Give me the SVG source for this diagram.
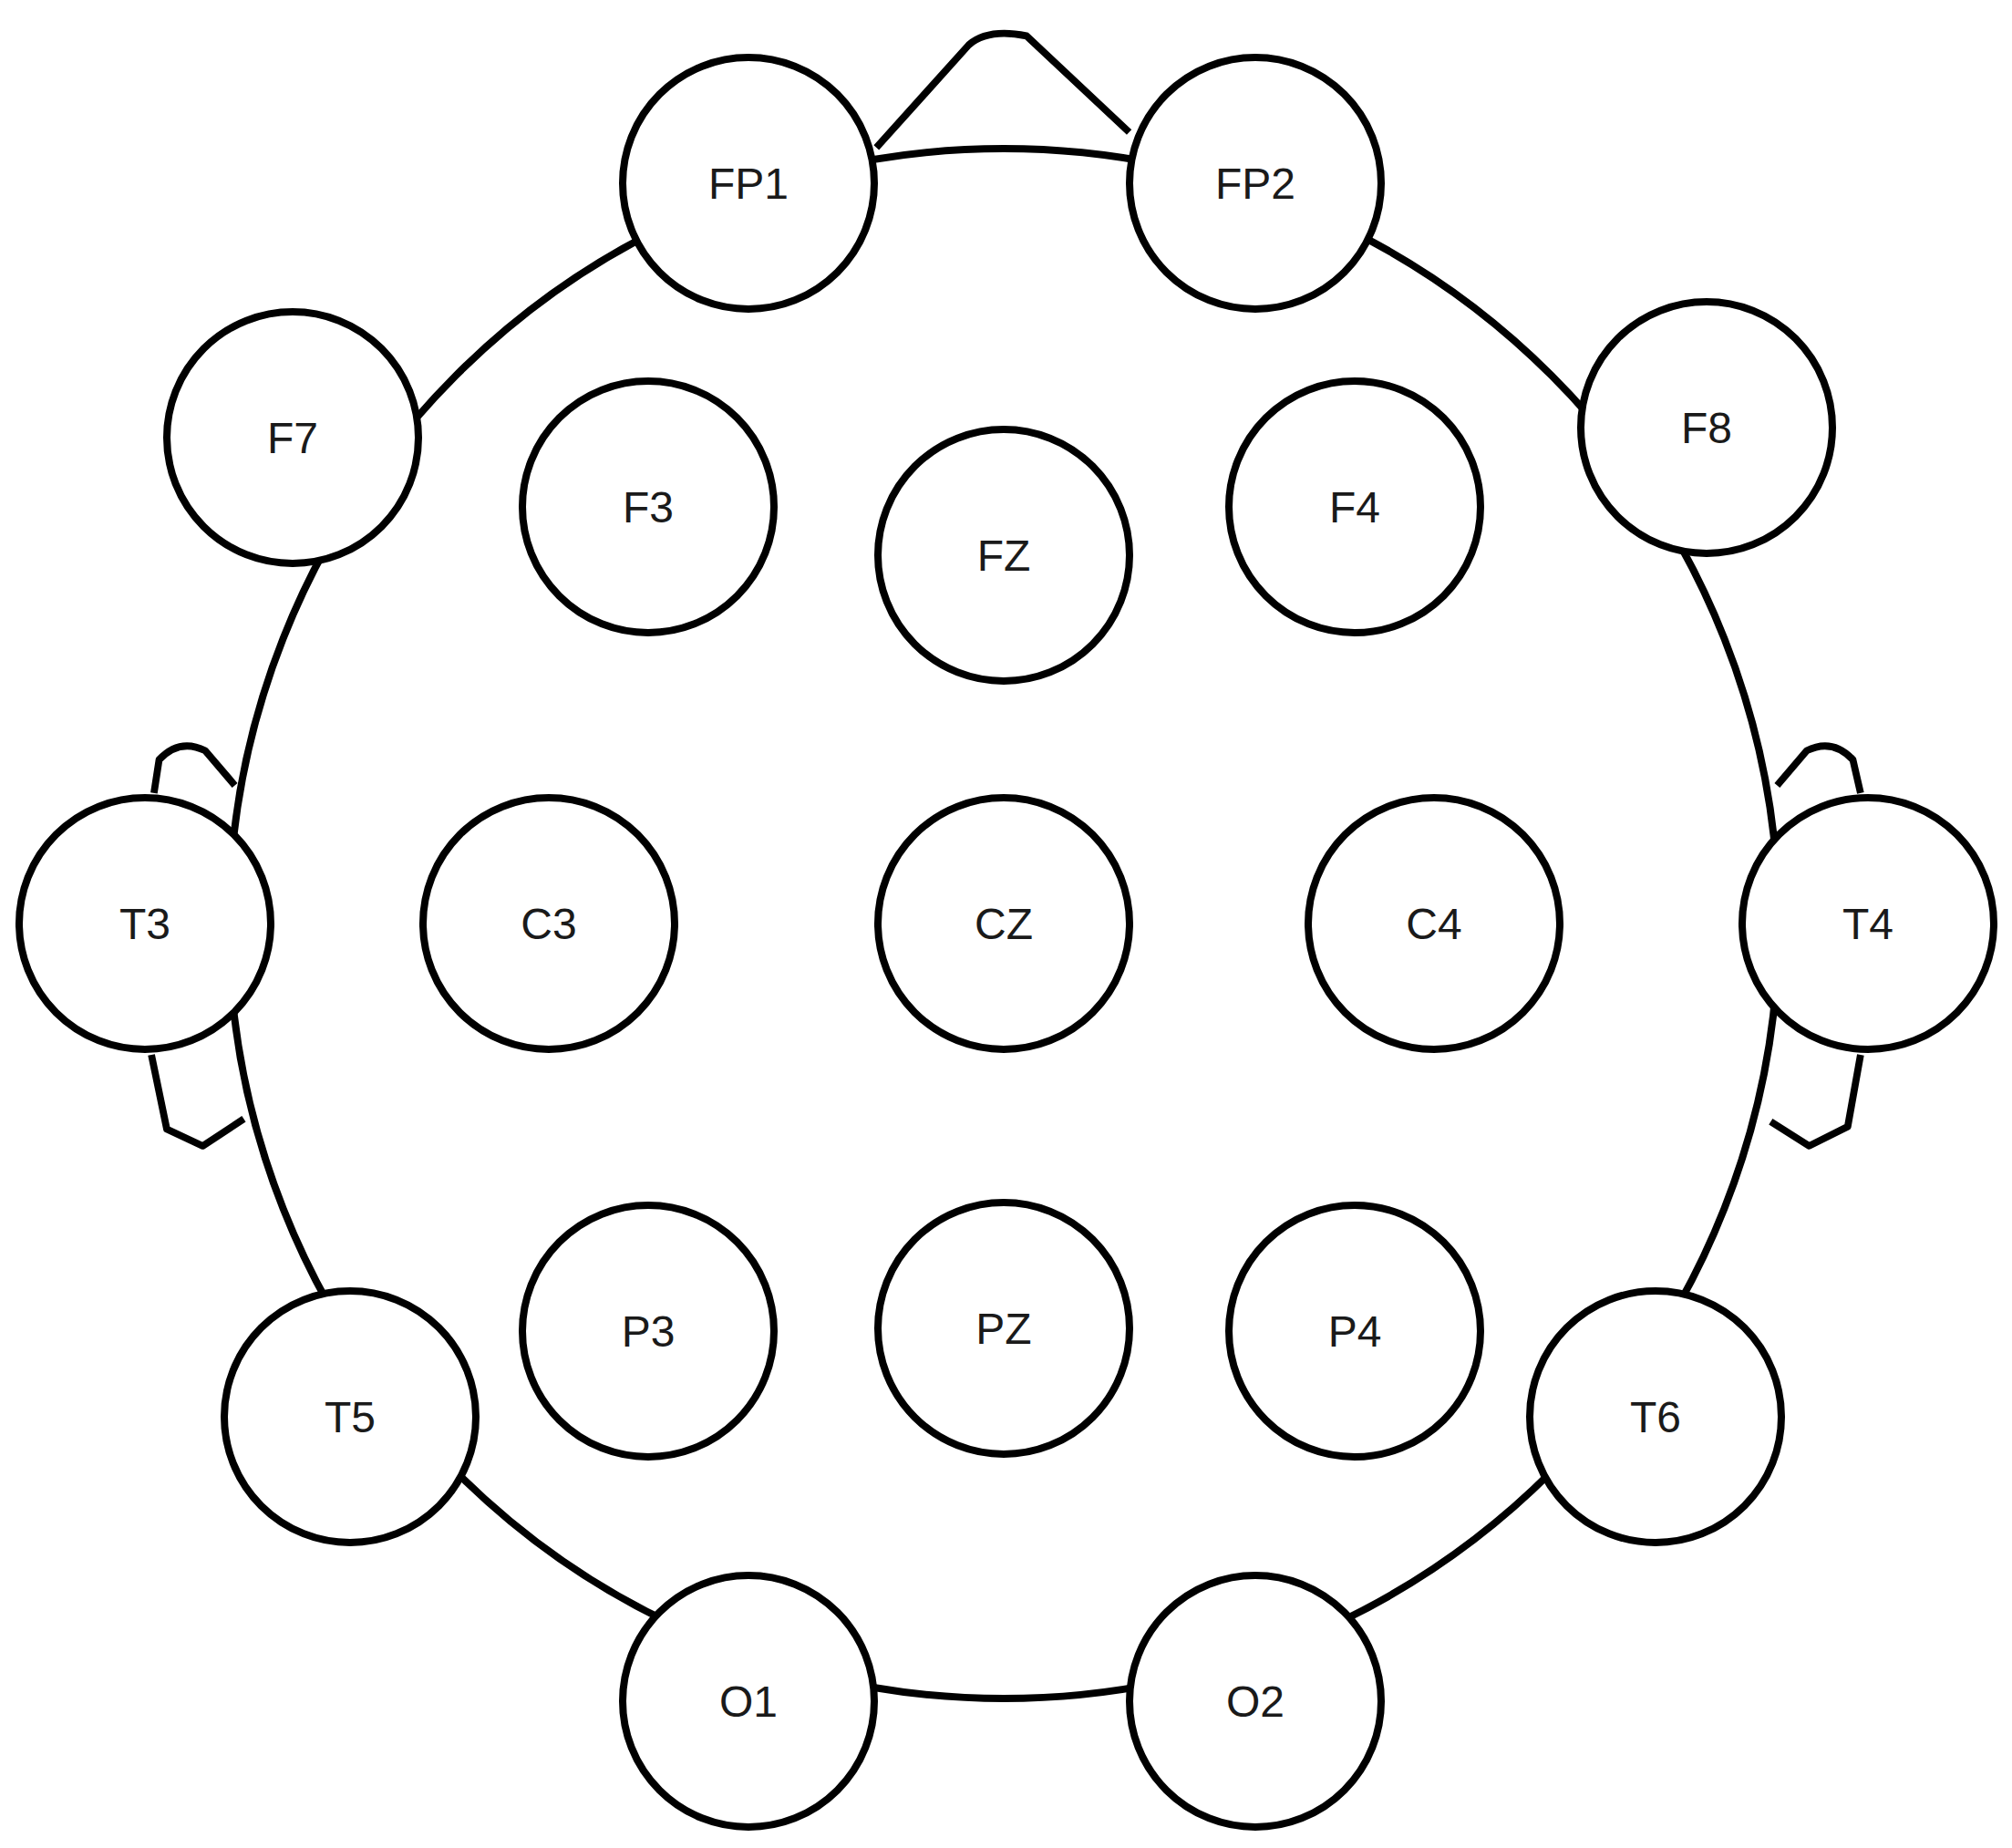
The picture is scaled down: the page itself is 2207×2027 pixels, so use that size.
<svg xmlns="http://www.w3.org/2000/svg" width="2207" height="2027" viewBox="0 0 2207 2027">
<style>
.n circle{fill:#fff;stroke:#000;stroke-width:8}
.n text{font-family:"Liberation Sans",Arial,sans-serif;font-size:48px;text-anchor:middle;dominant-baseline:central;fill:#1a1a1a}
.h{fill:none;stroke:#000;stroke-width:5.5;stroke-linejoin:round}
</style>
<rect width="2207" height="2027" fill="#fff"/>
<g id="connectors">
<circle cx="1101" cy="1013" r="850" fill="none" stroke="#000" stroke-width="8"/>
<g transform="scale(1.4075)">
<path class="h" d="M683,115 L755,35 Q770,22 800,28 L880,103"/>
<path class="h" d="M183,612 L160,585 Q140,575 124,592 L120,618"/>
<path class="h" d="M118,822 L130,880 L158,893 L190,872"/>
<path class="h" d="M1385,612 L1408,585 Q1428,575 1444,592 L1450,618"/>
<path class="h" d="M1450,822 L1440,878 L1410,893 L1380,874"/>
</g>
</g>
<g id="FP1" class="n"><circle cx="821" cy="201" r="138"/><text x="821" y="201">FP1</text></g>
<g id="FP2" class="n"><circle cx="1377" cy="201" r="138"/><text x="1377" y="201">FP2</text></g>
<g id="F7" class="n"><circle cx="321" cy="480" r="138"/><text x="321" y="480">F7</text></g>
<g id="F8" class="n"><circle cx="1872" cy="469" r="138"/><text x="1872" y="469">F8</text></g>
<g id="F3" class="n"><circle cx="711" cy="556" r="138"/><text x="711" y="556">F3</text></g>
<g id="FZ" class="n"><circle cx="1101" cy="609" r="138"/><text x="1101" y="609">FZ</text></g>
<g id="F4" class="n"><circle cx="1486" cy="556" r="138"/><text x="1486" y="556">F4</text></g>
<g id="T3" class="n"><circle cx="159" cy="1013" r="138"/><text x="159" y="1013">T3</text></g>
<g id="C3" class="n"><circle cx="602" cy="1013" r="138"/><text x="602" y="1013">C3</text></g>
<g id="CZ" class="n"><circle cx="1101" cy="1013" r="138"/><text x="1101" y="1013">CZ</text></g>
<g id="C4" class="n"><circle cx="1573" cy="1013" r="138"/><text x="1573" y="1013">C4</text></g>
<g id="T4" class="n"><circle cx="2049" cy="1013" r="138"/><text x="2049" y="1013">T4</text></g>
<g id="P3" class="n"><circle cx="711" cy="1460" r="138"/><text x="711" y="1460">P3</text></g>
<g id="PZ" class="n"><circle cx="1101" cy="1457" r="138"/><text x="1101" y="1457">PZ</text></g>
<g id="P4" class="n"><circle cx="1486" cy="1460" r="138"/><text x="1486" y="1460">P4</text></g>
<g id="T5" class="n"><circle cx="384" cy="1554" r="138"/><text x="384" y="1554">T5</text></g>
<g id="T6" class="n"><circle cx="1816" cy="1554" r="138"/><text x="1816" y="1554">T6</text></g>
<g id="O1" class="n"><circle cx="821" cy="1866" r="138"/><text x="821" y="1866">O1</text></g>
<g id="O2" class="n"><circle cx="1377" cy="1866" r="138"/><text x="1377" y="1866">O2</text></g>
</svg>
